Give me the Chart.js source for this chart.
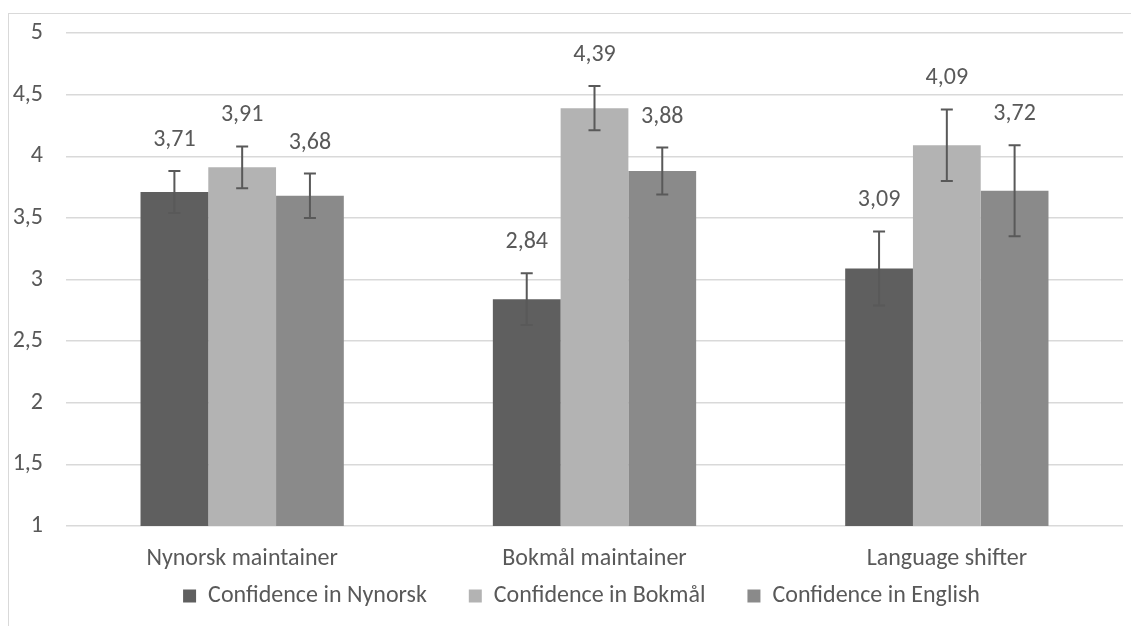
<!DOCTYPE html>
<html>
<head>
<meta charset="utf-8">
<script src="https://cdn.jsdelivr.net/npm/chart.js@4.4.1/dist/chart.umd.min.js"></script>
<style>
    html, body { margin: 0; padding: 0; background: #fff; overflow: hidden; }
    #frame { position: absolute; left: 8px; top: 13px; width: 1300px; height: 800px; border: 1px solid #d9d9d9; }
    #chart { position: absolute; left: 0; top: 0; }
</style>
</head>
<body>
<div id="frame"></div>
<canvas id="chart" width="1131" height="626"></canvas>
<script>
const categories = ['Nynorsk maintainer', 'Bokmål maintainer', 'Language shifter'];
const seriesNames = ['Confidence in Nynorsk', 'Confidence in Bokmål', 'Confidence in English'];
const nynorskValues = [3.71, 2.84, 3.09];
const bokmalValues = [3.91, 4.39, 4.09];
const englishValues = [3.68, 3.88, 3.72];
const nynorskErrors = [0.17, 0.21, 0.30];
const bokmalErrors = [0.17, 0.18, 0.29];
const englishErrors = [0.18, 0.19, 0.37];
const yMin = 1;
const yMax = 5;
const yStep = 0.5;

const textColor = '#595959';
const fontFamily = 'Carlito, Calibri, Lato, sans-serif';
const fontSize = 24;

const commaNumber = (v) => String(v).replace('.', ',');

// error bars + value labels drawn on top of the bars
const errorBarPlugin = {
    id: 'errorBars',
    afterDatasetsDraw(chart) {
        const ctx = chart.ctx;
        const yScale = chart.scales.y;
        ctx.save();
        chart.data.datasets.forEach((ds, i) => {
            const meta = chart.getDatasetMeta(i);
            meta.data.forEach((bar, j) => {
                const v = ds.data[j];
                const e = ds.errors[j];
                const top = yScale.getPixelForValue(v + e);
                const bottom = yScale.getPixelForValue(v - e);
                const x = bar.x;
                ctx.strokeStyle = '#595959';
                ctx.lineWidth = 2;
                ctx.beginPath();
                ctx.moveTo(x, top);
                ctx.lineTo(x, bottom);
                ctx.moveTo(x - 6, top);
                ctx.lineTo(x + 6, top);
                ctx.moveTo(x - 6, bottom);
                ctx.lineTo(x + 6, bottom);
                ctx.stroke();

                ctx.fillStyle = textColor;
                ctx.font = `${fontSize}px ${fontFamily}`;
                ctx.textAlign = 'center';
                ctx.textBaseline = 'middle';
                ctx.fillText(commaNumber(v), x, top - 31);
            });
        });
        ctx.restore();
    }
};

// nudge the legend so it sits where the original one does
const legendShift = {
    id: 'legendShift',
    afterLayout(chart) {
        const l = chart.legend;
        if (l) {
            l.left += 20;
            l.right += 20;
            l.top -= 32;
        }
    }
};

const ctx = document.getElementById('chart').getContext('2d');
new Chart(ctx, {
    type: 'bar',
    data: {
        labels: categories,
        datasets: [
            { label: seriesNames[0], data: nynorskValues, errors: nynorskErrors, backgroundColor: '#5f5f5f' },
            { label: seriesNames[1], data: bokmalValues, errors: bokmalErrors, backgroundColor: '#b3b3b3' },
            { label: seriesNames[2], data: englishValues, errors: englishErrors, backgroundColor: '#8a8a8a' }
        ]
    },
    options: {
        responsive: false,
        animation: false,
        devicePixelRatio: 1,
        categoryPercentage: 0.577,
        barPercentage: 1,
        layout: {
            padding: { left: 0, right: 8, top: 33, bottom: 10 }
        },
        scales: {
            x: {
                grid: { display: false, drawTicks: false },
                border: { display: false },
                afterFit: (s) => { s.height = 48; },
                ticks: {
                    color: textColor,
                    font: { family: fontFamily, size: fontSize },
                    padding: 19
                }
            },
            y: {
                min: yMin,
                max: yMax,
                grid: { color: '#d9d9d9', lineWidth: 1.5, drawTicks: true, tickLength: 20, tickColor: 'rgba(0,0,0,0)' },
                border: { display: false },
                afterFit: (s) => { s.width = 66; },
                ticks: {
                    stepSize: yStep,
                    color: textColor,
                    font: { family: fontFamily, size: fontSize },
                    padding: 3,
                    callback: (v) => commaNumber(v)
                }
            }
        },
        plugins: {
            tooltip: { enabled: false },
            legend: {
                position: 'bottom',
                maxHeight: 42,
                labels: {
                    color: textColor,
                    font: { family: fontFamily, size: fontSize },
                    boxWidth: 13,
                    boxHeight: 13,
                    padding: 42
                }
            }
        }
    },
    plugins: [errorBarPlugin, legendShift]
});
</script>
</body>
</html>
